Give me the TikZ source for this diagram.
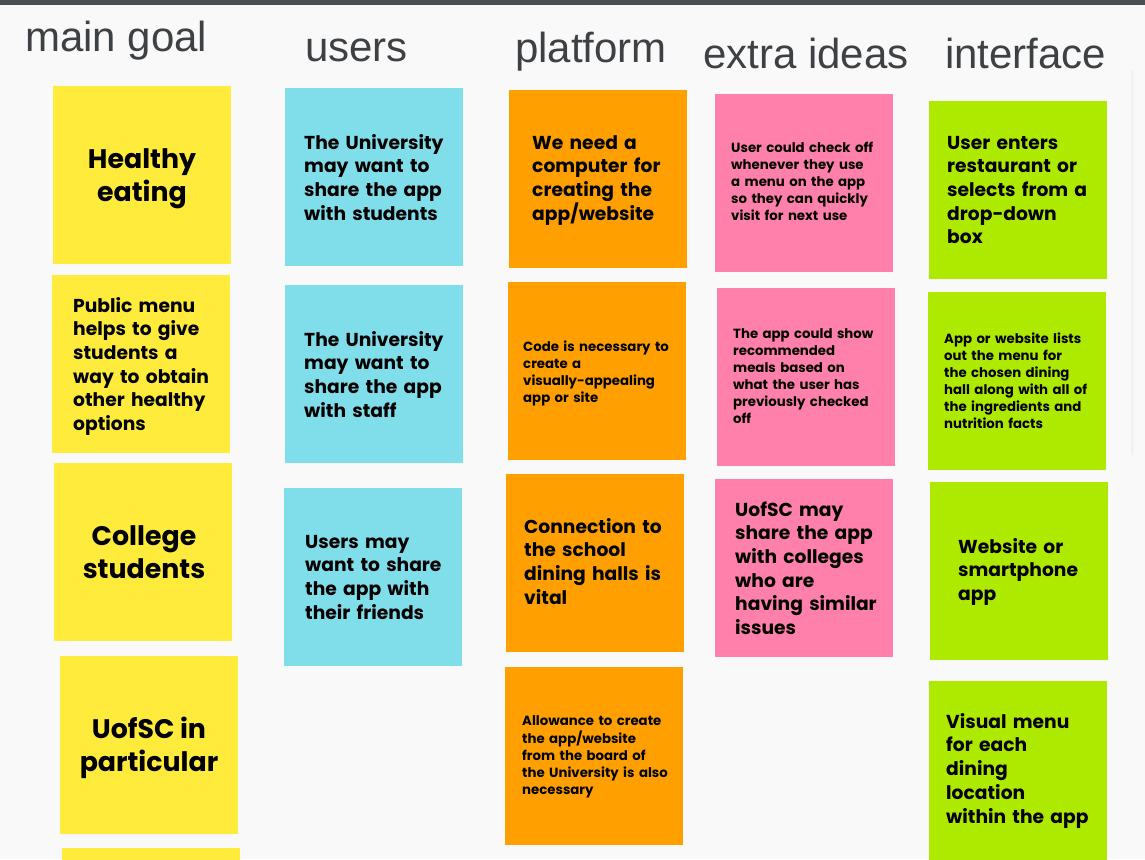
\documentclass[tikz,border=0pt]{standalone}
\usepackage{fontspec}
\newfontfamily\notefont{Poppins}
\newfontfamily\headfont{Liberation Sans}
\definecolor{bg}{HTML}{F9F9F9}
\definecolor{topbar}{HTML}{4B4E52}
\definecolor{headc}{HTML}{3E4144}
\definecolor{yel}{HTML}{FFEB3B}
\definecolor{cya}{HTML}{80DEEA}
\definecolor{ora}{HTML}{FFA000}
\definecolor{pin}{HTML}{FF80AB}
\definecolor{lim}{HTML}{AEEA00}
\tikzset{
  note/.style={draw=none, minimum width=178pt, minimum height=178pt, inner sep=0pt},
  head/.style={anchor=base west, inner sep=0pt, text=headc, font=\headfont\fontsize{42}{44}\selectfont},
  bigtxt/.style={anchor=north, inner sep=0pt, align=center, yshift=23.1pt,
     font=\notefont\bfseries\fontsize{26.8}{33}\selectfont},
  midtxt/.style={anchor=north west, inner sep=0pt, align=left, text width=200pt, yshift=16.6pt,
     font=\notefont\bfseries\fontsize{18.7}{23.7}\selectfont},
  smltxt/.style={anchor=north west, inner sep=0pt, align=left, text width=200pt, yshift=11.9pt,
     font=\notefont\bfseries\fontsize{13.3}{17}\selectfont},
}
\begin{document}
\begin{tikzpicture}[x=1pt,y=-1pt]
\useasboundingbox (0,0) rectangle (1145,859);
\clip (0,0) rectangle (1145,859);
\fill[bg] (0,0) rectangle (1145,859);
\fill[topbar] (0,0) rectangle (1145,5);
\fill[black!5] (1131,70) rectangle (1134,455);

% headers
\node[head] (h1) at (25,52) {main goal};
\node[head] (h2) at (305,62) {users};
\node[head] (h3) at (515,63) {platform};
\node[head] (h4) at (703,68) {extra ideas};
\node[head] (h5) at (945,68) {interface};

% main goal
\node[note, fill=yel] (y1) at (142,174.5) {};
\node[note, fill=yel] (y2) at (141,363.5) {};
\node[note, fill=yel] (y3) at (143,551.5) {};
\node[note, fill=yel] (y4) at (149,744.5) {};
\node[note, fill=yel] (y5) at (151,937) {};
\node[bigtxt] (ty1) at (142,168) {\strut Healthy\\eating};
\node[midtxt] (ty2) at (73,312) {\strut Public menu\\helps to give\\students a\\way to obtain\\other healthy\\options};
\node[bigtxt] (ty3) at (144,545) {\strut College\\students};
\node[bigtxt] (ty4) at (149,738) {\strut UofSC in\\particular};

% users
\node[note, fill=cya] (c1) at (374,177) {};
\node[note, fill=cya] (c2) at (374,374) {};
\node[note, fill=cya] (c3) at (373,577) {};
\node[midtxt] (tc1) at (304,149) {\strut The University\\may want to\\share the app\\with students};
\node[midtxt] (tc2) at (304,346) {\strut The University\\may want to\\share the app\\with staff};
\node[midtxt] (tc3) at (305,548) {\strut Users may\\want to share\\the app with\\their friends};

% platform
\node[note, fill=ora] (o1) at (598,178.5) {};
\node[note, fill=ora] (o2) at (596.5,371) {};
\node[note, fill=ora] (o3) at (594.5,563) {};
\node[note, fill=ora] (o4) at (593.5,756) {};
\node[midtxt] (to1) at (532,149) {\strut We need a\\computer for\\creating the\\app/website};
\node[smltxt] (to2) at (523,351) {\strut Code is necessary to\\create a\\visually-appealing\\app or site};
\node[midtxt] (to3) at (524,533) {\strut Connection to\\the school\\dining halls is\\vital};
\node[smltxt] (to4) at (522,725) {\strut Allowance to create\\the app/website\\from the board of\\the University is also\\necessary};

% extra ideas
\node[note, fill=pin] (p1) at (804,182.5) {};
\node[note, fill=pin] (p2) at (805.5,377) {};
\node[note, fill=pin] (p3) at (804,568) {};
\node[smltxt] (tp1) at (731,152) {\strut User could check off\\whenever they use\\a menu on the app\\so they can quickly\\visit for next use};
\node[smltxt] (tp2) at (733,338) {\strut The app could show\\recommended\\meals based on\\what the user has\\previously checked\\off};
\node[midtxt] (tp3) at (735,516) {\strut UofSC may\\share the app\\with colleges\\who are\\having similar\\issues};

% interface
\node[note, fill=lim] (g1) at (1018,190) {};
\node[note, fill=lim] (g2) at (1017,380.5) {};
\node[note, fill=lim] (g3) at (1019,571) {};
\node[note, fill=lim, minimum height=190pt] (g4) at (1018,776) {};
\node[midtxt] (tg1) at (947,149) {\strut User enters\\restaurant or\\selects from a\\drop-down\\box};
\node[smltxt] (tg2) at (944,343) {\strut App or website lists\\out the menu for\\the chosen dining\\hall along with all of\\the ingredients and\\nutrition facts};
\node[midtxt] (tg3) at (958,553) {\strut Website or\\smartphone\\app};
\node[midtxt] (tg4) at (946,728) {\strut Visual menu\\for each\\dining\\location\\within the app};
\end{tikzpicture}
\end{document}
